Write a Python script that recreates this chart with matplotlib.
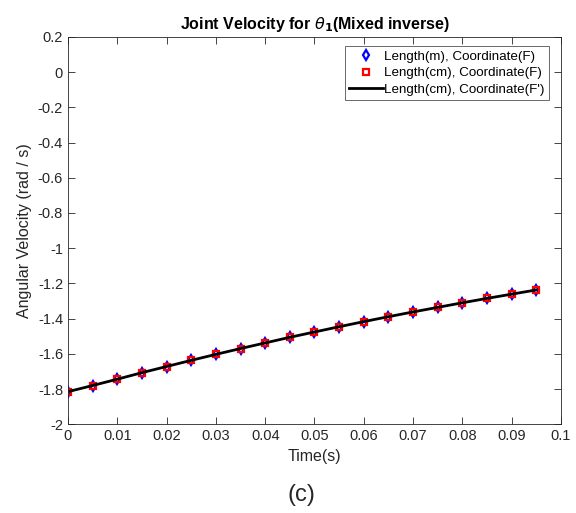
import numpy as np
import matplotlib
matplotlib.use('Agg')
import matplotlib.pyplot as plt

plt.rcParams['font.family'] = ['Liberation Sans', 'DejaVu Sans']
plt.rcParams['mathtext.fontset'] = 'dejavusans'

time_s = [0.0, 0.005, 0.01, 0.015, 0.02, 0.025, 0.03, 0.035, 0.04, 0.045,
          0.05, 0.055, 0.06, 0.065, 0.07, 0.075, 0.08, 0.085, 0.09, 0.095]
vel_m = [-1.815, -1.780, -1.744, -1.707, -1.672, -1.637, -1.603, -1.570, -1.538, -1.506,
         -1.476, -1.446, -1.417, -1.389, -1.362, -1.336, -1.310, -1.285, -1.261, -1.237]
vel_cm = list(vel_m)
vel_cm_fp = list(vel_m)

xticks = [0, 0.01, 0.02, 0.03, 0.04, 0.05, 0.06, 0.07, 0.08, 0.09, 0.1]
yticks = [-2, -1.8, -1.6, -1.4, -1.2, -1, -0.8, -0.6, -0.4, -0.2, 0, 0.2]

fig = plt.figure(figsize=(5.76, 5.13), dpi=100)
ax = fig.add_axes([0.118, 0.173, 0.856, 0.755])

ax.plot(time_s, vel_m, linestyle='none', marker='d', markersize=5.5,
        markerfacecolor='none', markeredgecolor='#0000ff', markeredgewidth=1.6,
        label='Length(m), Coordinate(F)')
ax.plot(time_s, vel_cm, linestyle='none', marker='s', markersize=4.5,
        markerfacecolor='none', markeredgecolor='#ff0000', markeredgewidth=1.6,
        label='Length(cm), Coordinate(F)')
ax.plot(time_s, vel_cm_fp, color='black', linewidth=2,
        label="Length(cm), Coordinate(F')")

ax.set_xlim(0, 0.1)
ax.set_ylim(-2, 0.2)
ax.set_xticks(xticks)
ax.set_xticklabels(['0', '0.01', '0.02', '0.03', '0.04', '0.05', '0.06', '0.07', '0.08', '0.09', '0.1'])
ax.set_yticks(yticks)
ax.set_yticklabels(['-2', '-1.8', '-1.6', '-1.4', '-1.2', '-1', '-0.8', '-0.6', '-0.4', '-0.2', '0', '0.2'])

grey = '#262626'
for sp in ax.spines.values():
    sp.set_color(grey)
    sp.set_linewidth(0.6)
ax.tick_params(direction='in', top=True, right=True, length=5, width=0.6,
               colors=grey, labelsize=10.5, labelcolor=grey)

ax.set_xlabel('Time(s)', fontsize=11.5, color=grey)
ax.set_ylabel('Angular Velocity (rad / s)', fontsize=11.5, color=grey)
ax.set_title(r'Joint Velocity for $\theta_{\mathbf{1}}$(Mixed inverse)',
             fontsize=11.5, fontweight='bold', pad=6)

leg = ax.legend(loc='upper right', fontsize=9.6, frameon=True, fancybox=False,
                borderpad=0.35, labelspacing=0.3, handlelength=2.5, handletextpad=0.1,
                borderaxespad=0, bbox_to_anchor=(0.976, 0.977))
leg.get_frame().set_edgecolor(grey)
leg.get_frame().set_linewidth(0.6)

fig.text(0.523, 0.035, '(c)', fontsize=17, ha='center', va='center', color=grey)

fig.savefig('out.png', dpi=100, facecolor='white')
